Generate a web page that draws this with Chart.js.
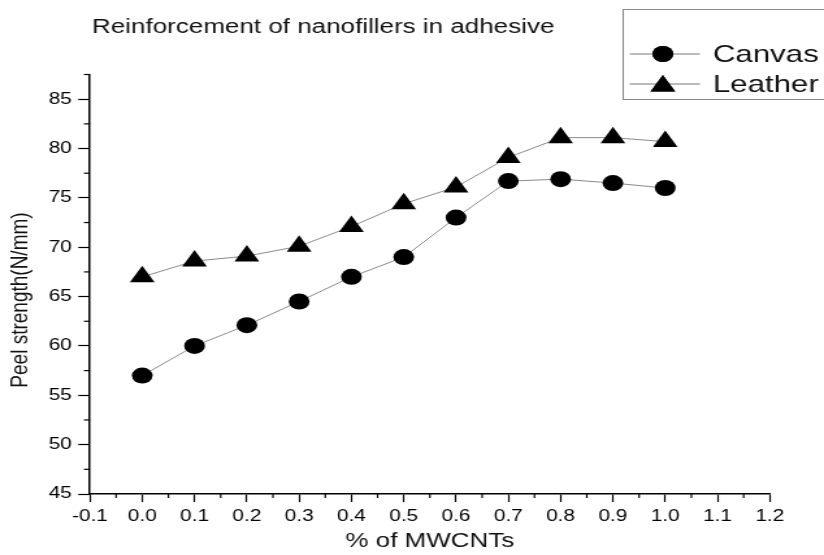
<!DOCTYPE html>
<html>
<head>
<meta charset="utf-8">
<script src="https://cdn.jsdelivr.net/npm/chart.js@4/dist/chart.umd.min.js"></script>
<style>
  body { margin: 0; background: #fff; overflow: hidden; }
  #wrap { width: 634px; height: 555px; transform: scaleX(1.2997); transform-origin: 0 0; }
</style>
</head>
<body>
<div id="wrap"><canvas id="chart" width="634" height="555"></canvas></div>
<script>
// data
var percent = [0.0, 0.1, 0.2, 0.3, 0.4, 0.5, 0.6, 0.7, 0.8, 0.9, 1.0];
var canvasStrength = [57, 60, 62.1, 64.5, 67, 69, 73, 76.7, 76.9, 76.5, 76];
var leatherStrength = [67, 68.6, 69.1, 70.1, 72.1, 74.4, 76.1, 79.1, 81.1, 81.1, 80.7];
var seriesNames = ["Canvas", "Leather"];
var xRange = [-0.1, 1.2];
var yRange = [45, 87.5];

var FONT = "'Liberation Sans', Arial, sans-serif";

function toPoints(ys)
{
    return percent.map((x, i) => ({x: x, y: ys[i]}));
}

// minor ticks, title, y-axis title and boxed legend
var decorPlugin = {
    id: "decor",
    afterDraw(chart) {
        const ctx = chart.ctx;
        const xs = chart.scales.x;
        const ys = chart.scales.y;
        const area = chart.chartArea;
        ctx.save();
        ctx.strokeStyle = "#000";
        ctx.lineWidth = 1.2;
        for (let v = xRange[0] + 0.05; v < xRange[1]; v += 0.1) {
            const px = xs.getPixelForValue(v);
            ctx.beginPath();
            ctx.moveTo(px, area.bottom);
            ctx.lineTo(px, area.bottom + 4);
            ctx.stroke();
        }
        for (let v = yRange[0] + 2.5; v <= yRange[1]; v += 5) {
            const py = ys.getPixelForValue(v);
            ctx.beginPath();
            ctx.moveTo(area.left, py);
            ctx.lineTo(area.left - 4.6, py);
            ctx.stroke();
        }

        ctx.fillStyle = "#111";
        ctx.font = "20px " + FONT;
        ctx.textBaseline = "middle";
        ctx.textAlign = "left";
        ctx.fillText("Reinforcement of nanofillers in adhesive", 70.8, 27);

        ctx.save();
        ctx.translate(15.5, 300);
        ctx.rotate(-Math.PI / 2);
        ctx.textAlign = "center";
        ctx.font = "19px " + FONT;
        ctx.fillText("Peel strength(N/mm)", 0, 0);
        ctx.restore();

        // legend
        ctx.strokeStyle = "#888";
        ctx.lineWidth = 1;
        ctx.strokeRect(479.5, 9.5, 200, 90);
        const rows = [54, 84];
        const styles = ["circle", "triangle"];
        const radii = [8, 11];
        ctx.font = "24px " + FONT;
        rows.forEach((y, i) => {
            ctx.strokeStyle = "#777";
            ctx.lineWidth = 1;
            ctx.beginPath();
            ctx.moveTo(484.5, y);
            ctx.lineTo(538.5, y);
            ctx.stroke();
            ctx.fillStyle = "#000";
            Chart.helpers.drawPoint(ctx, {pointStyle: styles[i], radius: radii[i], borderWidth: 0}, 510, y + (i == 1 ? 2 : 0));
            ctx.fill();
            ctx.fillStyle = "#111";
            ctx.fillText(seriesNames[i], 548.5, y + 1);
        });
        ctx.restore();
    }
};

var chart = new Chart(document.getElementById("chart"), {
    type: "line",
    data: {
        datasets: [
            {
                label: seriesNames[0],
                data: toPoints(canvasStrength),
                borderColor: "#8a8a8a",
                borderWidth: 1,
                pointStyle: "circle",
                pointRadius: 8,
                pointBackgroundColor: "#000",
                pointBorderColor: "#000",
                pointBorderWidth: 0
            },
            {
                label: seriesNames[1],
                data: toPoints(leatherStrength),
                borderColor: "#8a8a8a",
                borderWidth: 1,
                pointStyle: "triangle",
                pointRadius: 11,
                pointBackgroundColor: "#000",
                pointBorderColor: "#000",
                pointBorderWidth: 0
            }
        ]
    },
    options: {
        responsive: false,
        animation: false,
        layout: {padding: {top: 74.5, right: 41.7, bottom: 0, left: 0}},
        plugins: {legend: {display: false}, tooltip: {enabled: false}},
        scales: {
            x: {
                type: "linear",
                min: xRange[0],
                max: xRange[1],
                afterFit: s => { s.height = 61; },
                border: {color: "#000", width: 1.5},
                grid: {drawOnChartArea: false, tickLength: 8, tickColor: "#000", tickWidth: 1.2},
                ticks: {
                    stepSize: 0.1,
                    autoSkip: false,
                    maxRotation: 0,
                    padding: 5,
                    color: "#000",
                    font: {family: FONT, size: 16},
                    callback: v => Number(v).toFixed(1)
                },
                title: {
                    display: true,
                    text: "% of MWCNTs",
                    color: "#111",
                    font: {family: FONT, size: 20},
                    padding: {top: 0, bottom: 2}
                }
            },
            y: {
                min: yRange[0],
                max: yRange[1],
                afterFit: s => { s.width = 69.2; },
                afterBuildTicks: s => { s.ticks = s.ticks.filter(t => t.value % 5 === 0); },
                border: {color: "#000", width: 1.5},
                grid: {drawOnChartArea: false, tickLength: 9, tickColor: "#000", tickWidth: 1.2},
                ticks: {
                    stepSize: 5,
                    padding: 5,
                    color: "#000",
                    font: {family: FONT, size: 16}
                }
            }
        }
    },
    plugins: [decorPlugin]
});
</script>
</body>
</html>
